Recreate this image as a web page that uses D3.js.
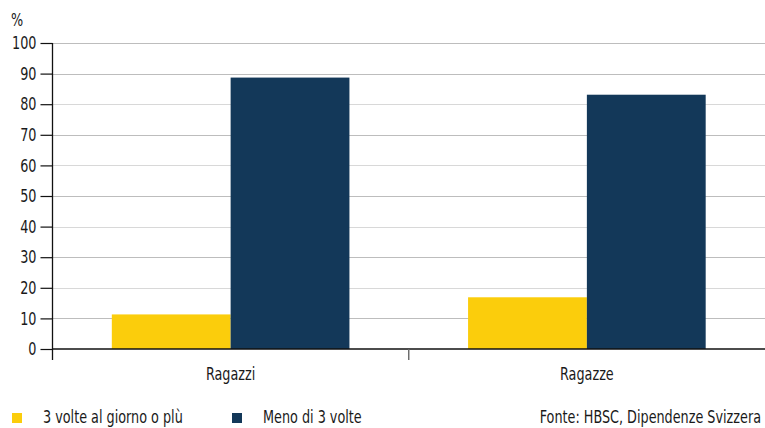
<!DOCTYPE html>
<html>
<head>
<meta charset="utf-8">
<script src="https://cdn.jsdelivr.net/npm/d3@7"></script>
<style>
  html, body { margin: 0; padding: 0; background: #fff; }
  svg text { font-family: "DejaVu Sans Condensed", "Liberation Sans Narrow", sans-serif; font-stretch: condensed; fill: #1a1a1a; }
</style>
</head>
<body>
<svg id="chart" width="765" height="428"></svg>
<script>
// Frequenza di spazzolamento dei denti per sesso (%)
const categories = ["Ragazzi", "Ragazze"];
const seriesNames = ["3 volte al giorno o plù", "Meno di 3 volte"];
const seriesColors = ["#fbcd0c", "#133859"];
const threeOrMore = [11.3, 16.9];
const lessThanThree = [88.7, 83.1];
const yTicks = [0, 10, 20, 30, 40, 50, 60, 70, 80, 90, 100];
const sourceNote = "Fonte: HBSC, Dipendenze Svizzera";

const svg = d3.select("#chart");
const margin = { left: 52.5, right: 0, top: 43, bottom: 79 };
const W = 765, H = 428;
const fontSize = 18;
const narrow = 0.79; // horizontal squeeze applied to every label

const x0 = d3.scaleBand().domain(categories).range([margin.left, W]).padding(0);
// each pair of bars fills the middle two thirds of its band
const x1 = d3.scaleBand().domain(seriesNames)
  .range([x0.bandwidth() * 0.1665, x0.bandwidth() * 0.8335]).padding(0);

const y = d3.scaleLinear().domain([0, 100]).range([H - margin.bottom, margin.top]);

// horizontal gridlines
svg.append("g")
  .selectAll("line")
  .data(yTicks.filter(d => d > 0))
  .join("line")
  .attr("x1", margin.left).attr("x2", W)
  .attr("y1", d => Math.round(y(d)) + 0.5).attr("y2", d => Math.round(y(d)) + 0.5)
  .attr("stroke", d => (d % 20 === 0 && d !== 100) ? "#d8d8d8" : "#bdbdbd")
  .attr("stroke-width", 1);

// bars
const rows = categories.map((c, i) => ({ cat: c, vals: [threeOrMore[i], lessThanThree[i]] }));
svg.append("g")
  .selectAll("g")
  .data(rows)
  .join("g")
  .attr("transform", d => `translate(${x0(d.cat)},0)`)
  .selectAll("rect")
  .data(d => d.vals.map((v, j) => ({ name: seriesNames[j], v, j })))
  .join("rect")
  .attr("x", d => x1(d.name))
  .attr("width", x1.bandwidth())
  .attr("y", d => y(d.v))
  .attr("height", d => y(0) - y(d.v))
  .attr("fill", d => seriesColors[d.j]);

// y axis
const yAxis = svg.append("g")
  .attr("transform", `translate(${margin.left},0)`)
  .call(d3.axisLeft(y).tickValues(yTicks).tickSize(12).tickPadding(4));
yAxis.select(".domain").remove();
yAxis.selectAll(".tick line").attr("stroke", "#111").attr("stroke-width", 1.2);
yAxis.selectAll(".tick text").attr("font-size", fontSize).attr("fill", "#1a1a1a");
yAxis.append("line")
  .attr("x1", 0).attr("x2", 0)
  .attr("y1", y(100)).attr("y2", y(0) + 11)
  .attr("stroke", "#111").attr("stroke-width", 1.3);

// x axis
const xAxis = svg.append("g")
  .attr("transform", `translate(0,${y(0)})`)
  .call(d3.axisBottom(x0).tickSize(0).tickPadding(18));
xAxis.select(".domain").remove();
xAxis.selectAll(".tick text").attr("font-size", fontSize).attr("fill", "#1a1a1a");
xAxis.append("line")
  .attr("x1", margin.left).attr("x2", W)
  .attr("y1", 0).attr("y2", 0)
  .attr("stroke", "#111").attr("stroke-width", 1.4);
// separator between groups
xAxis.append("line")
  .attr("x1", x0(categories[1])).attr("x2", x0(categories[1]))
  .attr("y1", 0).attr("y2", 11)
  .attr("stroke", "#666").attr("stroke-width", 1.4);

// unit label
svg.append("text")
  .attr("x", 11).attr("y", 26)
  .attr("font-size", fontSize)
  .text("%");

// legend
const legendX = [12, 232];
const legend = svg.append("g")
  .selectAll("g")
  .data(seriesNames)
  .join("g")
  .attr("transform", (d, i) => `translate(${legendX[i]},413)`);
legend.append("rect")
  .attr("width", 10).attr("height", 10)
  .attr("fill", (d, i) => seriesColors[i]);
legend.append("text")
  .attr("x", 31).attr("y", 10)
  .attr("font-size", fontSize)
  .text(d => d);

// squeeze all labels horizontally to a narrow face
svg.selectAll("text").each(function () {
  const len = this.getComputedTextLength();
  d3.select(this).attr("textLength", len * narrow).attr("lengthAdjust", "spacingAndGlyphs");
});

// source, right-aligned against the edge and narrowed with a scale transform
svg.append("text")
  .attr("transform", `translate(${W - 4},423) scale(${narrow},1)`)
  .attr("text-anchor", "end")
  .attr("font-size", fontSize)
  .text(sourceNote);
</script>
</body>
</html>
